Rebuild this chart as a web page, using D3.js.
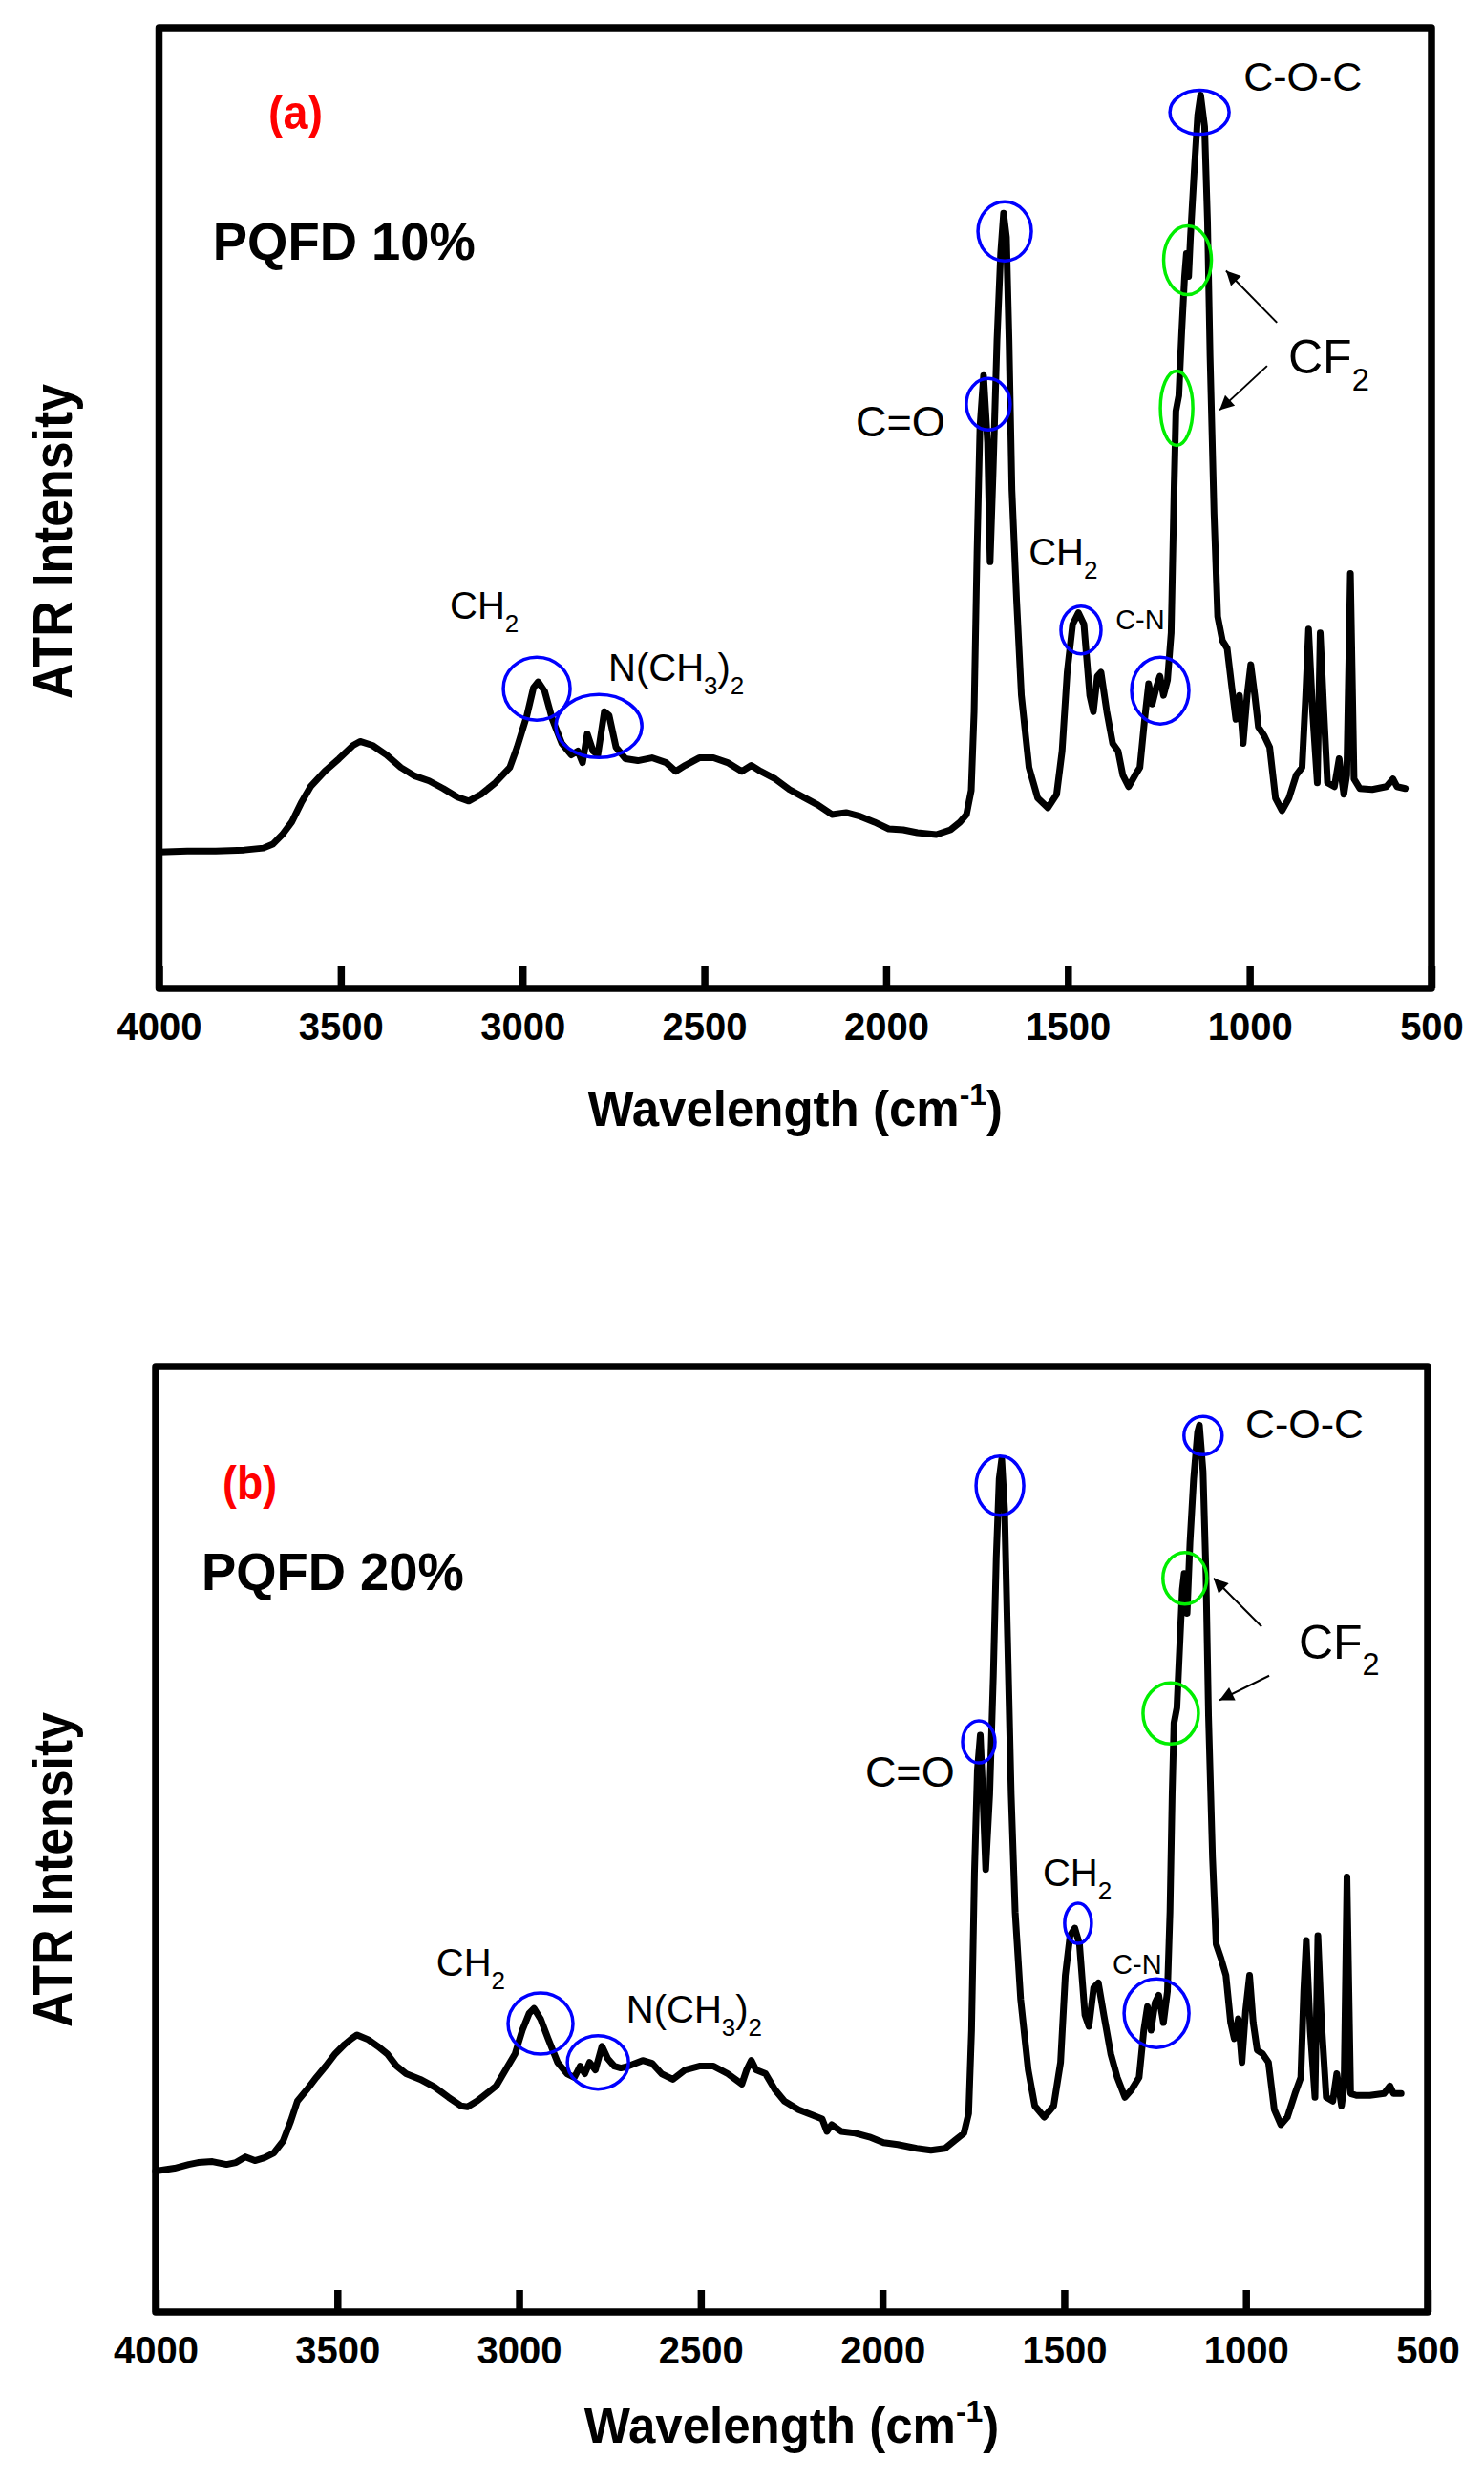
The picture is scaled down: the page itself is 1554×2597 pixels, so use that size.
<!DOCTYPE html>
<html>
<head>
<meta charset="utf-8">
<style>
body { margin: 0; background: #fff; }
text { font-family: Arial, "Liberation Sans", sans-serif; }
</style>
<script src="https://cdn.jsdelivr.net/npm/d3@7"></script>
</head>
<body>
<div id="chart"></div>
<script>

// x axis ticks (wavenumber, cm-1)
var tickValues = [4000, 3500, 3000, 2500, 2000, 1500, 1000, 500];

// (a) PQFD 10% : wavenumber / ATR intensity (a.u., 0 = frame bottom, 100 = frame top)
var waveA = [4000,3922,3844,3765,3713,3687,3661,3635,3609,3583,
  3544,3505,3466,3447,3413,3374,3335,3296,3257,3218,
  3179,3148,3114,3075,3035,3015,2988,2970,2957,2939,
  2918,2892,2866,2848,2835,2822,2806,2793,2775,2762,
  2743,2717,2683,2644,2605,2579,2553,2514,2475,2436,
  2397,2371,2345,2305,2266,2227,2188,2149,2110,2071,
  2032,1993,1953,1914,1862,1823,1797,1779,1766,1758,
  1750,1742,1732,1721,1714,1706,1695,1685,1677,1669,
  1662,1654,1641,1628,1607,1583,1555,1531,1516,1502,
  1487,1471,1456,1440,1430,1419,1409,1393,1377,1362,
  1349,1333,1315,1302,1289,1278,1268,1257,1247,1237,
  1226,1216,1208,1203,1195,1187,1179,1174,1168,1163,
  1153,1143,1135,1124,1116,1109,1098,1088,1075,1062,
  1049,1038,1028,1018,1007,997,986,976,960,945,
  929,911,892,872,856,846,838,827,814,806,
  796,786,767,754,741,733,723,713,697,663,
  624,606,595,572];
var intA = [14.2,14.3,14.3,14.4,14.6,15.0,16.0,17.3,19.3,21.0,
  22.6,23.9,25.3,25.7,25.3,24.3,23.0,22.1,21.6,20.8,
  19.9,19.5,20.2,21.4,23.0,25.1,28.4,31.3,31.9,30.9,
  28.0,25.5,24.3,24.7,23.5,26.5,24.7,24.3,28.8,28.4,
  25.1,23.9,23.7,24.0,23.5,22.6,23.2,24.0,24.0,23.5,
  22.6,23.2,22.6,21.8,20.7,19.9,19.1,18.1,18.3,17.9,
  17.3,16.6,16.5,16.2,16.0,16.5,17.3,18.1,20.6,28.8,
  45.3,58.4,63.8,56.8,44.4,53.5,67.5,76.5,80.7,78.2,
  67.5,51.9,40.3,30.5,23.0,19.8,18.8,20.2,24.7,32.9,
  37.9,39.1,37.9,30.5,28.8,32.5,32.9,28.8,25.5,24.7,
  22.2,21.0,22.2,23.0,28.0,31.7,29.6,31.3,32.5,30.5,
  32.1,37.0,51.9,60.1,61.7,68.3,74.1,76.5,74.1,78.2,
  84.8,90.9,93.0,89.7,79.8,65.8,49.4,38.7,36.2,35.4,
  31.3,28.0,30.5,25.5,30.5,33.7,30.5,27.2,26.3,25.1,
  19.8,18.5,19.8,22.2,23.0,30.5,37.4,28.8,21.4,37.0,
  28.8,21.4,21.0,23.9,20.2,22.2,43.2,21.8,20.8,20.7,
  21.0,21.8,21.0,20.8];

// (b) PQFD 20%
var waveB = [4000,3948,3909,3883,3844,3805,3779,3753,3727,3701,
  3675,3649,3628,3610,3584,3558,3532,3506,3480,3461,
  3446,3415,3389,3363,3337,3311,3272,3233,3194,3160,
  3142,3116,3089,3063,3037,3011,2991,2972,2959,2941,
  2920,2894,2868,2848,2832,2819,2806,2790,2772,2756,
  2738,2720,2699,2660,2634,2608,2577,2543,2504,2465,
  2426,2387,2374,2361,2348,2322,2296,2270,2231,2192,
  2166,2153,2140,2114,2075,2036,1997,1958,1906,1867,
  1828,1802,1776,1763,1755,1747,1739,1731,1724,1716,
  1705,1695,1687,1679,1672,1664,1656,1646,1635,1620,
  1599,1581,1555,1529,1510,1497,1484,1471,1458,1443,
  1432,1419,1406,1391,1372,1354,1333,1315,1294,1281,
  1271,1261,1250,1240,1227,1216,1209,1203,1198,1190,
  1183,1175,1170,1162,1154,1144,1133,1128,1118,1110,
  1103,1092,1082,1068,1055,1042,1032,1021,1011,1001,
  990,980,969,954,938,922,904,886,865,849,
  841,834,823,810,802,792,779,761,750,737,
  730,722,712,696,659,620,604,594,573];
var intB = [14.9,15.2,15.6,15.8,15.9,15.6,15.8,16.4,16.0,16.3,
  16.8,18.1,20.2,22.3,23.5,24.8,26.0,27.3,28.3,28.9,
  29.3,28.8,28.1,27.3,26.0,25.2,24.6,23.8,22.7,21.8,
  21.7,22.3,23.1,23.9,25.6,27.3,29.8,31.6,32.1,31.0,
  28.9,26.4,25.2,24.8,26.0,25.2,26.4,25.6,28.1,26.8,
  26.0,25.8,26.0,26.6,26.3,25.2,24.6,25.6,26.0,26.0,
  25.2,24.1,25.6,26.6,25.6,25.2,23.5,22.3,21.4,20.8,
  20.4,19.1,19.8,19.1,18.9,18.5,17.9,17.7,17.3,17.1,
  17.3,18.1,18.9,21.0,29.8,46.4,57.3,61.0,54.8,46.8,
  54.8,67.3,79.8,88.1,90.2,84.8,71.4,54.8,42.3,33.1,
  25.6,21.8,20.6,21.8,26.4,35.6,39.8,40.6,38.9,31.4,
  30.2,34.3,34.8,31.4,27.3,24.8,22.7,23.5,24.8,29.8,
  32.3,29.8,32.7,33.5,30.6,33.9,42.3,54.8,62.3,63.9,
  69.8,76.4,78.1,73.9,81.4,88.1,93.1,93.8,88.9,78.1,
  63.1,48.1,38.9,37.3,35.6,30.6,28.9,31.0,26.4,31.8,
  35.6,30.6,27.7,27.3,26.4,21.4,19.8,20.6,23.1,24.8,
  33.9,39.3,29.8,22.7,39.8,30.6,22.7,22.3,25.2,21.8,
  23.9,46.0,23.1,22.9,22.9,23.1,23.9,23.1,23.1];

// annotation rings: wavenumber, intensity, rx, ry, colour
var BLUE = "#0000ff", GREEN = "#00ee00";
var ringsA = [
  [1138, 91.2, 31, 23, BLUE], [1674, 78.8, 28, 31, BLUE], [1719, 60.8, 23, 27, BLUE],
  [1464, 37.3, 21, 25, BLUE], [1246, 31.0, 30, 35, BLUE], [2961, 31.2, 35, 33, BLUE],
  [2790, 27.3, 45, 33, BLUE], [1171, 75.8, 25, 36, GREEN], [1201, 60.4, 17, 39, GREEN]
];
var ringsB = [
  [1118, 92.7, 20, 20, BLUE], [1677, 87.4, 25, 31, BLUE], [1735, 60.3, 17, 22, BLUE],
  [1462, 41.1, 14, 21, BLUE], [1246, 31.6, 34, 36, BLUE], [2941, 30.5, 34, 32, BLUE],
  [2783, 26.4, 32, 28, BLUE], [1168, 77.6, 23, 27, GREEN], [1207, 63.3, 29, 32, GREEN]
];

// arrows: from (wn, int) to (wn, int)
var arrowsA = [[925, 69.3, 1065, 74.7], [952, 64.8, 1083, 60.2]];
var arrowsB = [[957, 72.5, 1089, 77.6], [936, 67.3, 1073, 64.7]];

// text labels: wavenumber, intensity (baseline), font size, parts
var labelsA = [
  [1017, 93.4, 43, [["C-O-C"]]],
  [894, 64.0, 50, [["CF"], ["2", "sub"]]],
  [2084, 57.5, 45, [["C=O"]]],
  [1608, 44.0, 40, [["CH"], ["2", "sub"]]],
  [1369, 37.4, 29, [["C-N"]]],
  [3200, 38.5, 40, [["CH"], ["2", "sub"]]],
  [2764, 32.0, 40, [["N(CH"], ["3", "sub"], [")"], ["2", "sub"]]]
];
var labelsB = [
  [1002, 92.4, 43, [["C-O-C"]]],
  [855, 69.1, 50, [["CF"], ["2", "sub"]]],
  [2048, 55.6, 45, [["C=O"]]],
  [1559, 45.1, 40, [["CH"], ["2", "sub"]]],
  [1367, 35.8, 29, [["C-N"]]],
  [3228, 35.6, 40, [["CH"], ["2", "sub"]]],
  [2705, 30.6, 40, [["N(CH"], ["3", "sub"], [")"], ["2", "sub"]]]
];

var panels = [
  { wave: waveA, inten: intA, rings: ringsA, arrows: arrowsA, labels: labelsA,
    left: 166.5, right: 1499, top: 29, bottom: 1035,
    letter: "(a)", letterPos: [3699, 89.5], sample: "PQFD 10%", samplePos: [3852, 75.8],
    yLabelY: 567, xLabelY: 1179 },
  { wave: waveB, inten: intB, rings: ringsB, arrows: arrowsB, labels: labelsB,
    left: 163, right: 1495, top: 1431, bottom: 2421,
    letter: "(b)", letterPos: [3816, 86.0], sample: "PQFD 20%", samplePos: [3874, 76.4],
    yLabelY: 1958, xLabelY: 2558 }
];

var W = 1554, H = 2597;
var svg = d3.select("#chart").append("svg")
    .attr("width", W)
    .attr("height", H);

svg.append("defs").append("marker")
    .attr("id", "head")
    .attr("viewBox", "0 0 10 10")
    .attr("refX", 10)
    .attr("refY", 5)
    .attr("markerUnits", "userSpaceOnUse")
    .attr("markerWidth", 21)
    .attr("markerHeight", 15)
    .attr("orient", "auto")
  .append("path")
    .attr("d", "M0,0L10,5L0,10z")
    .attr("fill", "#000");

function drawLabel(g, px, py, size, parts, weight, color) {
  var t = g.append("text")
      .attr("x", px)
      .attr("y", py)
      .attr("font-size", size)
      .attr("font-weight", weight || "normal")
      .attr("fill", color || "#000");
  var down = false;
  parts.forEach(function(p) {
    var s = t.append("tspan").text(p[0]);
    if (p[1] === "sub") {
      s.attr("font-size", size * 0.65).attr("dy", down ? 0 : size * 0.35);
      down = true;
    } else if (down) {
      s.attr("dy", -size * 0.35);
      down = false;
    }
  });
  return t;
}

panels.forEach(function(p) {
  var x = d3.scaleLinear().domain([4000, 500]).range([p.left, p.right]);
  var y = d3.scaleLinear().domain([0, 100]).range([p.bottom, p.top]);
  var g = svg.append("g");

  // frame
  g.append("rect")
      .attr("x", p.left)
      .attr("y", p.top)
      .attr("width", p.right - p.left)
      .attr("height", p.bottom - p.top)
      .attr("fill", "none")
      .attr("stroke", "#000")
      .attr("stroke-width", 7.5)
      .attr("stroke-linejoin", "round");

  // bottom axis with inward ticks
  var xAxis = d3.axisBottom(x)
      .tickValues(tickValues)
      .tickFormat(d3.format("d"))
      .tickSizeInner(-23)
      .tickSizeOuter(0)
      .tickPadding(26);
  var ax = g.append("g")
      .attr("transform", "translate(0," + p.bottom + ")")
      .call(xAxis)
      .attr("font-family", "Arial, 'Liberation Sans', sans-serif")
      .attr("font-size", 40)
      .attr("font-weight", "bold");
  ax.select(".domain").remove();
  ax.selectAll(".tick line").attr("stroke", "#000").attr("stroke-width", 7.5);
  ax.selectAll(".tick text").attr("fill", "#000");

  // spectrum
  var pts = p.wave.map(function(w, i) { return [w, p.inten[i]]; });
  var line = d3.line()
      .x(function(d) { return x(d[0]); })
      .y(function(d) { return y(d[1]); });
  g.append("path")
      .datum(pts)
      .attr("d", line)
      .attr("fill", "none")
      .attr("stroke", "#000")
      .attr("stroke-width", 7)
      .attr("stroke-linejoin", "round")
      .attr("stroke-linecap", "round");

  // rings
  g.selectAll(".ring").data(p.rings).enter().append("ellipse")
      .attr("class", "ring")
      .attr("cx", function(d) { return x(d[0]); })
      .attr("cy", function(d) { return y(d[1]); })
      .attr("rx", function(d) { return d[2]; })
      .attr("ry", function(d) { return d[3]; })
      .attr("fill", "none")
      .attr("stroke", function(d) { return d[4]; })
      .attr("stroke-width", 3.5);

  // arrows
  g.selectAll(".arrow").data(p.arrows).enter().append("line")
      .attr("class", "arrow")
      .attr("x1", function(d) { return x(d[0]); })
      .attr("y1", function(d) { return y(d[1]); })
      .attr("x2", function(d) { return x(d[2]); })
      .attr("y2", function(d) { return y(d[3]); })
      .attr("stroke", "#000")
      .attr("stroke-width", 2)
      .attr("marker-end", "url(#head)");

  // peak labels
  p.labels.forEach(function(l) {
    drawLabel(g, x(l[0]), y(l[1]), l[2], l[3]);
  });

  // panel letter and sample name
  drawLabel(g, x(p.letterPos[0]), y(p.letterPos[1]), 50, [[p.letter]], "bold", "#ff0000")
      .attr("textLength", 57).attr("lengthAdjust", "spacingAndGlyphs");
  drawLabel(g, x(p.samplePos[0]), y(p.samplePos[1]), 56, [[p.sample]], "bold")
      .attr("textLength", 275).attr("lengthAdjust", "spacingAndGlyphs");

  // axis titles
  g.append("text")
      .attr("transform", "translate(75," + p.yLabelY + ") rotate(-90)")
      .attr("text-anchor", "middle")
      .attr("font-size", 57)
      .attr("font-weight", "bold")
      .attr("textLength", 330)
      .attr("lengthAdjust", "spacingAndGlyphs")
      .text("ATR Intensity");

  var xt = g.append("text")
      .attr("x", (p.left + p.right) / 2)
      .attr("y", p.xLabelY)
      .attr("text-anchor", "middle")
      .attr("font-size", 51)
      .attr("font-weight", "bold");
  xt.append("tspan").text("Wavelength (cm");
  xt.append("tspan").attr("font-size", 32).attr("dy", -22).text("-1");
  xt.append("tspan").attr("dy", 22).text(")");
});

</script>
</body>
</html>
